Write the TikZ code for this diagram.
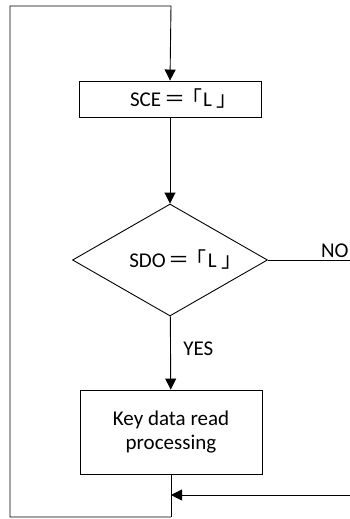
\documentclass[tikz,border=0pt]{standalone}
\usepackage{fontspec}
\setmainfont{Carlito}
\newfontfamily\cjk{Noto Sans CJK JP}
\usetikzlibrary{shapes.geometric,arrows.meta}
\newcommand{\Lmark}{\kern3pt{\cjk ＝}\kern-4pt{\cjk 「}\kern1pt L\kern5pt{\cjk 」}\kern-8pt}
\begin{document}
\begin{tikzpicture}[x=1pt,y=-1pt,line width=0.9pt,
	every node/.style={font=\fontsize{21}{24.5}\selectfont},
	procbox/.style={draw, rectangle, minimum width=182pt, inner sep=0pt},
	decbox/.style={draw, diamond, aspect=1.74, minimum width=195pt, minimum height=112pt, inner sep=0pt},
	arr/.style={-{Triangle[length=11pt,width=11pt]}}]
	\useasboundingbox (0,0) rectangle (350,519);
	\node[procbox, minimum height=36pt] (sce) at (170,99) {\hspace*{20pt}SCE\Lmark};
	\node[decbox] (sdo) at (170,260) {\hspace*{24pt}SDO\Lmark};
	\node[procbox, minimum height=84pt, align=center] (key) at (171,432) {Key data read\\processing};
	\coordinate (tl) at (10,6);
	\coordinate (tr) at (171,6);
	\coordinate (bl) at (10,517);
	\coordinate (br) at (171,517);
	\coordinate (noend) at (350,260);
	\coordinate (inend) at (350,495);
	
	\draw[arr] (br) -- (bl) -- (tl) -- (tr) -- (sce.north);
	\draw[arr] (sce) -- (sdo);
	\draw[arr] (sdo) -- (key) node[pos=0.45,right=9pt]{YES};
	\draw (sdo.east) -- (noend) node[pos=1,anchor=south east,inner sep=2pt,xshift=1pt]{NO};
	\draw (key) -- (br);
	\draw[arr] (inend) -- (inend -| key.south);
\end{tikzpicture}
\end{document}
